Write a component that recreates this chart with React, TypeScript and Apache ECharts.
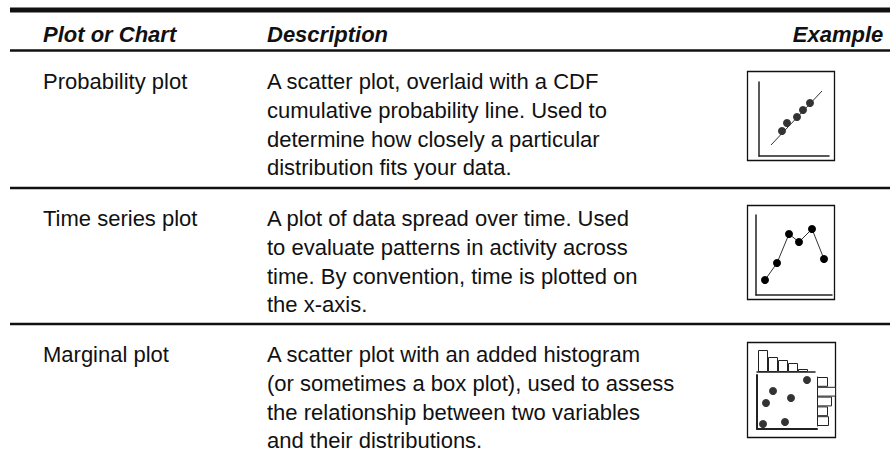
import React, { useEffect, useRef } from "react";
import * as echarts from "echarts";

// ---------- table content ----------
const headers = ["Plot or Chart", "Description", "Example"];
const plotNames = ["Probability plot", "Time series plot", "Marginal plot"];
const descriptions = [
  [
    "A scatter plot, overlaid with a CDF",
    "cumulative probability line. Used to",
    "determine how closely a particular",
    "distribution fits your data.",
  ],
  [
    "A plot of data spread over time. Used",
    "to evaluate patterns in activity across",
    "time. By convention, time is plotted on",
    "the x-axis.",
  ],
  [
    "A scatter plot with an added histogram",
    "(or sometimes a box plot), used to assess",
    "the relationship between two variables",
    "and their distributions.",
  ],
];

// ---------- example mini-chart data ----------
// probability plot
const probPoints = [
  [23, 25],
  [28, 33],
  [38, 39],
  [44, 46],
  [51, 53],
];
const probLine = [
  [12, 11],
  [63, 65],
];
// time series plot
const timeX = [9, 21, 33, 43, 56, 68];
const timeY = [15, 32, 61, 53, 66, 36];
// marginal plot
const marginalPoints = [
  [50, 49],
  [16, 38],
  [34, 31],
  [9, 26],
  [6, 5],
  [28, 7],
];
const topHistBins = [6, 16, 26, 36, 46];
const topHistCounts = [22, 15, 12, 9, 3];
const sideHistBins = ["b1", "b2", "b3", "b4", "b5"];
const sideHistCounts = [11, 19, 15, 11, 12];

// ---------- layout ----------
const FONT = "'Liberation Sans', Arial, sans-serif";
const INK = "#111";
const colX = [43, 267];
const headerBaseline = 42;
const rowBaselines = [89, 226, 362];
const lineStep = 28.8;
const ruleYs = [188, 324];
const boxes = [
  { x: 747, y: 71, w: 87, h: 89 },
  { x: 747, y: 205, w: 87, h: 94 },
  { x: 747, y: 342, w: 88, h: 95 },
];
const MID = 7.6; // baseline -> middle offset for 22px

function txt(text: string, x: number, baseline: number, bold = false, align = "left") {
  return {
    type: "text",
    silent: true,
    style: {
      text,
      x,
      y: baseline - MID,
      fill: INK,
      font: `${bold ? "italic bold " : ""}22px ${FONT}`,
      textAlign: align,
      align,
      textVerticalAlign: "middle",
      verticalAlign: "middle",
    },
  };
}

function hline(y: number, w: number) {
  return {
    type: "line",
    silent: true,
    shape: { x1: 10, y1: y, x2: 890, y2: y },
    style: { stroke: "#111", lineWidth: w },
  };
}

const hiddenAxis = (min: number, max: number, showLine: boolean, lw = 1.5) => ({
  type: "value",
  min,
  max,
  axisLine: { show: showLine, onZero: false, lineStyle: { color: "#222", width: lw } },
  axisTick: { show: false },
  axisLabel: { show: false },
  splitLine: { show: false },
});

export default function App() {
  const ref = useRef<HTMLDivElement>(null);

  useEffect(() => {
    if (!ref.current) return;
    const chart = echarts.init(ref.current, undefined, { renderer: "svg" });

    const graphics: any[] = [];
    graphics.push(hline(10, 5));
    graphics.push(hline(50.5, 2.5));
    ruleYs.forEach((y) => graphics.push(hline(y, 2.5)));
    graphics.push(txt(headers[0], colX[0], headerBaseline, true));
    graphics.push(txt(headers[1], colX[1], headerBaseline, true));
    graphics.push(txt(headers[2], 838, headerBaseline, true, "center"));
    plotNames.forEach((name, r) => {
      graphics.push(txt(name, colX[0], rowBaselines[r]));
      descriptions[r].forEach((line, i) => {
        graphics.push(txt(line, colX[1], rowBaselines[r] + i * lineStep));
      });
    });
    boxes.forEach((b) =>
      graphics.push({
        type: "rect",
        silent: true,
        shape: { x: b.x + 0.5, y: b.y + 0.5, width: b.w, height: b.h },
        style: { fill: "none", stroke: "#111", lineWidth: 1.3 },
      })
    );

    chart.setOption({
      animation: false,
      backgroundColor: "#fff",
      graphic: { elements: graphics },
      grid: [
        { left: 759, top: 82, width: 70, height: 74 },
        { left: 756, top: 215, width: 76, height: 80 },
        { left: 757, top: 375, width: 60, height: 54 },
        { left: 757, top: 347, width: 58, height: 25 },
        { left: 817, top: 377, width: 20, height: 49 },
      ],
      xAxis: [
        { gridIndex: 0, ...hiddenAxis(0, 70, true) },
        { gridIndex: 1, ...hiddenAxis(0, 76, true) },
        { gridIndex: 2, ...hiddenAxis(0, 60, true, 2) },
        { gridIndex: 3, ...hiddenAxis(0, 58, true, 1.5) },
        { gridIndex: 4, ...hiddenAxis(0, 20, false) },
      ],
      yAxis: [
        { gridIndex: 0, ...hiddenAxis(0, 74, true) },
        { gridIndex: 1, ...hiddenAxis(0, 80, true) },
        { gridIndex: 2, ...hiddenAxis(0, 54, true, 2) },
        { gridIndex: 3, ...hiddenAxis(0, 25, false) },
        {
          gridIndex: 4,
          type: "category",
          inverse: true,
          data: sideHistBins,
          axisLine: { show: true, lineStyle: { color: "#222", width: 1 } },
          axisTick: { show: false },
          axisLabel: { show: false },
          splitLine: { show: false },
        },
      ],
      series: [
        {
          type: "line",
          xAxisIndex: 0,
          yAxisIndex: 0,
          data: probLine,
          symbol: "none",
          lineStyle: { color: "#333", width: 1 },
          silent: true,
        },
        {
          type: "scatter",
          xAxisIndex: 0,
          yAxisIndex: 0,
          data: probPoints,
          symbolSize: 8,
          itemStyle: { color: "#000" },
          silent: true,
        },
        {
          type: "line",
          xAxisIndex: 1,
          yAxisIndex: 1,
          data: timeX.map((x, i) => [x, timeY[i]]),
          symbol: "circle",
          symbolSize: 8,
          showSymbol: true,
          itemStyle: { color: "#000" },
          lineStyle: { color: "#333", width: 1 },
          silent: true,
        },
        {
          type: "scatter",
          xAxisIndex: 2,
          yAxisIndex: 2,
          data: marginalPoints,
          symbolSize: 8,
          itemStyle: { color: "#000" },
          silent: true,
        },
        {
          type: "bar",
          xAxisIndex: 3,
          yAxisIndex: 3,
          data: topHistBins.map((b, i) => [b, topHistCounts[i]]),
          barWidth: 10,
          itemStyle: { color: "#fff", borderColor: "#222", borderWidth: 1 },
          silent: true,
        },
        {
          type: "bar",
          xAxisIndex: 4,
          yAxisIndex: 4,
          data: sideHistCounts,
          barCategoryGap: "0%",
          itemStyle: { color: "#fff", borderColor: "#222", borderWidth: 1 },
          silent: true,
        },
      ],
    });

    return () => chart.dispose();
  }, []);

  return (
    <div
      ref={ref}
      style={{ position: "fixed", left: 0, top: 0, width: 890, height: 456, background: "#fff" }}
    />
  );
}
